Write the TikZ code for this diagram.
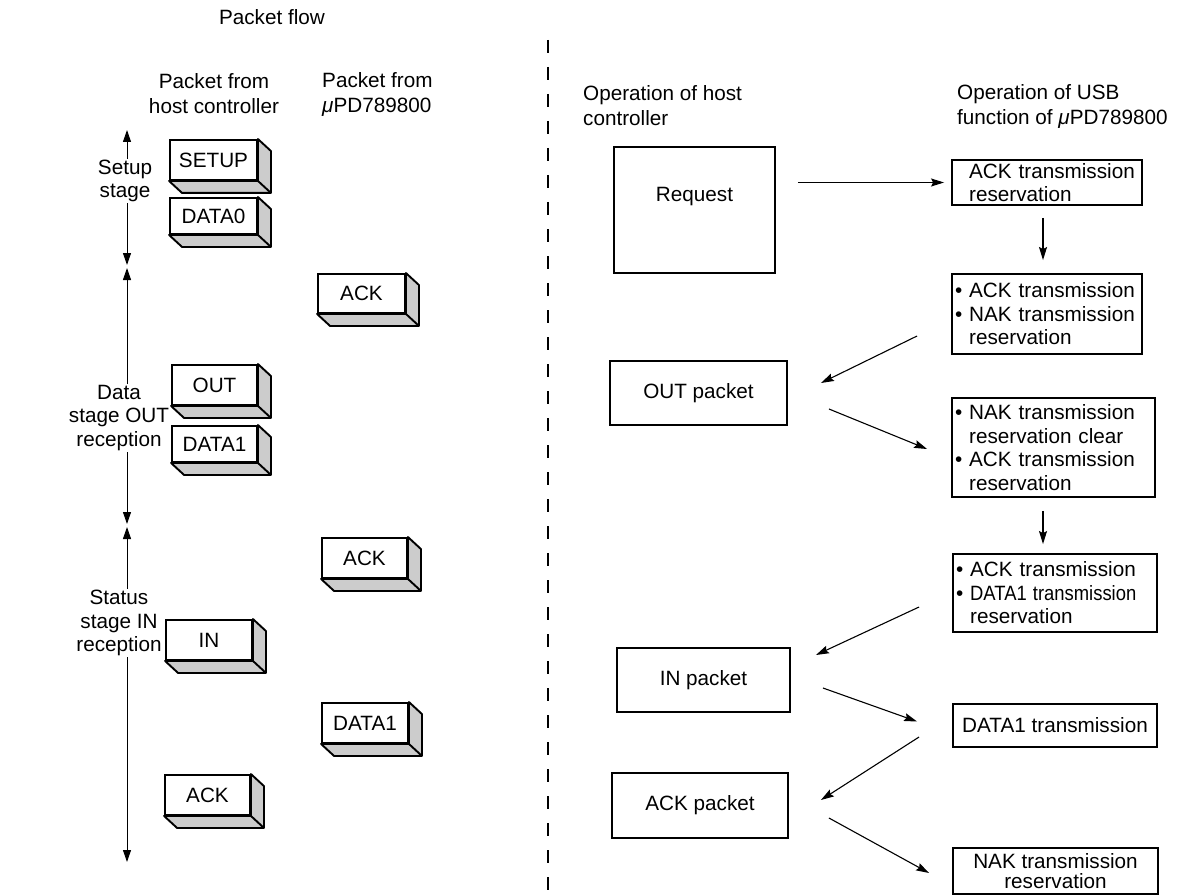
\documentclass[tikz,border=0pt]{standalone}
\usepackage{fontspec}
\usepackage{graphicx}
\setmainfont{Liberation Sans}
\usetikzlibrary{arrows.meta,calc}
\tikzset{
  txt/.style={font=\fontsize{20.7}{25}\selectfont, inner sep=0pt},
  pkt/.style={draw, line width=1.9pt, fill=white, font=\fontsize{20.7}{24}\selectfont, inner sep=0pt},
  side/.style={fill=black!20, draw, line width=1.9pt, line join=round},
  rbox/.style={draw, line width=1.9pt, font=\fontsize{20.7}{23.5}\selectfont, inner xsep=3pt, inner ysep=0pt, align=left},
  cbox/.style={draw, line width=1.9pt, font=\fontsize{20.7}{23.5}\selectfont, inner sep=0pt, align=center},
  arr/.style={line width=1.1pt, -{Stealth[length=13pt,width=8pt,inset=2pt]}},
  stagearr/.style={line width=1pt, {Triangle[length=12pt,width=8pt]}-{Triangle[length=12pt,width=8pt]}},
  stagelbl/.style={font=\fontsize{20.7}{23.5}\selectfont, align=center, fill=white, inner sep=1pt},
}
\newcommand\pktbox[6]{%
  \node[pkt, minimum width=#4pt, minimum height=#5pt] (#1) at (#2,#3) {#6};
  \draw[side] (#1.north east) -- ($(#1.north east)+(13,12)$) -- ($(#1.south east)+(13,12)$)
     -- ($(#1.south west)+(13,12)$) -- (#1.south west) -- (#1.south east) -- cycle;
  \draw[line width=1.9pt, line join=round] (#1.south east) -- ($(#1.south east)+(13,12)$);
}
\newcommand\bul{\textbullet\ }
\newcommand\nobul{\phantom{\textbullet\ }}
\begin{document}
\begin{tikzpicture}[x=1pt, y=-1pt]
\useasboundingbox (0,0) rectangle (1180,896);

% headers
\node[txt] (pflow) at (272,17) {Packet flow};
\node[txt, align=center] (hpc) at (214,94) {Packet from\\host controller};
\node[txt, align=left, anchor=west] (hpu) at (322,94) {Packet from\\{\itshape μ}PD789800};
\node[txt, align=left, anchor=west] (oph) at (583,106) {Operation of host\\controller};
\node[txt, align=left, anchor=west] (opu) at (957,106) {Operation of USB\\function of {\itshape μ}PD789800};

% dashed divider
\coordinate (dtop) at (548,40);
\coordinate (dbot) at (548,890);
\draw[line width=2.4pt, dash pattern=on 13pt off 14pt] (dtop) -- (dbot);

% stage arrows
\coordinate (s0) at (127,130);
\coordinate (s1a) at (127,265);
\coordinate (s1b) at (127,268);
\coordinate (s2a) at (127,524);
\coordinate (s2b) at (127,527);
\coordinate (s3) at (127,862);
\draw[stagearr] (s0) -- (s1a);
\draw[stagearr] (s1b) -- (s2a);
\draw[stagearr] (s2b) -- (s3);
\node[stagelbl] (lsetup) at (125,181) {Setup\\stage};
\node[stagelbl] (ldata) at (119,418) {Data\\stage OUT\\reception};
\node[stagelbl] (lstatus) at (119,623) {Status\\stage IN\\reception};

% packets
\pktbox{pSetup}{213.5}{160}{87}{40}{SETUP}
\pktbox{pDataA}{213.5}{216}{87}{36}{DATA0}
\pktbox{pAckA}{361.5}{293.5}{87}{39}{ACK}
\pktbox{pOut}{214.5}{385}{85}{40}{OUT}
\pktbox{pDataB}{214.5}{444}{85}{36}{DATA1}
\pktbox{pAckB}{364.5}{558}{85}{40}{ACK}
\pktbox{pIn}{209}{640}{86}{40}{IN}
\pktbox{pDataC}{365}{723}{86}{40}{DATA1}
\pktbox{pAckC}{207.5}{795}{85}{40}{ACK}

% host controller boxes
\node[draw, line width=1.9pt, minimum width=161pt, minimum height=126pt] (req) at (694.5,210) {};
\node[txt] (reqt) at (694.5,197) {Request};
\node[cbox, minimum width=177pt, minimum height=64pt] (outp) at (698.5,393) {OUT packet};
\node[cbox, minimum width=173pt, minimum height=64pt] (inp) at (703.5,680) {IN packet};
\node[cbox, minimum width=176pt, minimum height=65pt] (ackp) at (700,805.5) {ACK packet};

% USB function boxes
\node[rbox, text width=184pt, minimum height=45pt] (b1) at (1047,182.5)
  {\nobul ACK transmission\\\nobul reservation};
\node[rbox, text width=184pt, minimum height=80pt] (b2) at (1047,314)
  {\bul ACK transmission\\\bul NAK transmission\\\nobul reservation};
\node[rbox, text width=197pt, minimum height=99pt] (b3) at (1053.5,447.5)
  {\bul NAK transmission\\\nobul reservation clear\\\bul ACK transmission\\\nobul reservation};
\node[rbox, text width=198pt, minimum height=78pt] (b4) at (1055,593)
  {\bul ACK transmission\\\bul \scalebox{0.89}[1]{DATA1 transmission}\\\nobul reservation};
\node[cbox, minimum width=204pt, minimum height=43pt] (b5) at (1055,725.5) {DATA1 transmission};
\node[cbox, minimum width=205pt, minimum height=46pt, font=\fontsize{20.7}{20}\selectfont] (b6) at (1055.5,871)
  {NAK transmission\\reservation};

% connectors
\draw[arr] ($(req.east |- b1.west)+(22,0)$) -- ($(b1.west)+(-7,0)$);
\draw[arr] ($(b1.south)+(-4,12)$) -- ($(b2.north)+(-4,-13)$);
\draw[arr] ($(b2.west)+(-34,22)$) -- ($(outp.east)+(33,-10)$);
\draw[arr] ($(outp.east)+(41,16)$) -- ($(b3.west)+(-24,1.5)$);
\draw[arr] ($(b3.south)+(-10.5,13)$) -- ($(b4.north)+(-12,-9)$);
\draw[arr] ($(b4.west)+(-33,14)$) -- ($(inp.east)+(25,-25)$);
\draw[arr] ($(inp.east)+(32,8)$) -- ($(b5.west)+(-35,-4)$);
\draw[arr] ($(b5.west)+(-33,11.5)$) -- ($(ackp.east)+(32,-5.5)$);
\draw[arr] ($(ackp.east)+(40,12.5)$) -- ($(b6.west)+(-23,2)$);
\end{tikzpicture}
\end{document}
